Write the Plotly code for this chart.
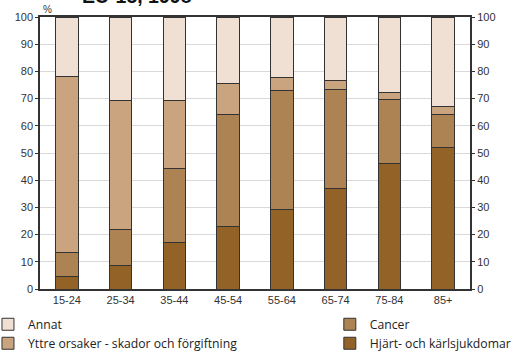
import plotly.graph_objects as go

categories = ["15-24", "25-34", "35-44", "45-54", "55-64", "65-74", "75-84", "85+"]
# cumulative tops (percent)
heart = [4.6, 8.8, 17.0, 22.9, 29.2, 36.9, 46.2, 52.1]
cancer_top = [13.5, 21.8, 44.2, 64.0, 72.9, 73.3, 69.6, 64.0]
yttre_top = [78.0, 69.2, 69.2, 75.4, 77.9, 76.6, 72.2, 67.1]

cancer = [c - h for c, h in zip(cancer_top, heart)]
yttre = [y - c for y, c in zip(yttre_top, cancer_top)]
annat = [100 - y for y in yttre_top]

series = [
    ("Hjärt- och kärlsjukdomar", heart, "#936226", 2, "legend2"),
    ("Cancer", cancer, "#AD8353", 1, "legend2"),
    ("Yttre orsaker - skador och förgiftning", yttre, "#C9A47E", 2, "legend"),
    ("Annat", annat, "#EFE0D3", 1, "legend"),
]

fig = go.Figure()
for name, vals, col, rank, leg in series:
    fig.add_trace(go.Bar(
        x=categories, y=vals, name=name, legendrank=rank, legend=leg,
        marker=dict(color=col, line=dict(color="#333333", width=1)),
        width=0.42,
    ))

# invisible trace for right axis
fig.add_trace(go.Scatter(x=categories, y=[0]*len(categories), yaxis="y2",
                         mode="markers", marker=dict(opacity=0), showlegend=False,
                         hoverinfo="skip"))

tickfont = dict(family="Liberation Sans Narrow, Arial Narrow, sans-serif", size=11, color="#333333")
legfont = dict(family="Open Sans, sans-serif", size=12.2, color="#222222")

fig.update_layout(
    width=532, height=352,
    margin=dict(l=40, r=62, t=17, b=63, autoexpand=False),
    barmode="stack",
    plot_bgcolor="white", paper_bgcolor="white",
    xaxis=dict(showgrid=False, tickfont=tickfont, showline=True, linecolor="#333333",
               linewidth=1.5, mirror=True, ticks="", ticklen=0, automargin=False),
    yaxis=dict(range=[0, 100], dtick=10, showgrid=True, gridcolor="#d9d9d9", gridwidth=1,
               tickfont=tickfont, showline=True, linecolor="#333333", linewidth=1.5,
               mirror=True, ticks="outside", ticklen=3, tickcolor="#333333", zeroline=False,
               automargin=False),
    yaxis2=dict(range=[0, 100], dtick=10, overlaying="y", side="right", showgrid=False,
                tickfont=tickfont, ticks="outside", ticklen=4, tickcolor="#333333",
                showline=False, zeroline=False, automargin=False),
    legend=dict(orientation="v", xref="paper", yref="container", x=-0.121, y=0.120,
                xanchor="left", yanchor="top", font=legfont, tracegroupgap=0,
                traceorder="normal", itemclick=False, bgcolor="rgba(0,0,0,0)"),
    legend2=dict(orientation="v", xref="paper", yref="container", x=0.674, y=0.120,
                 xanchor="left", yanchor="top", font=legfont, tracegroupgap=0,
                 traceorder="normal", itemclick=False, bgcolor="rgba(0,0,0,0)"),
    showlegend=True,
    annotations=[
        dict(text="<b>EU-15, 1998</b>", xref="paper", yref="paper", x=(137-40)/430, y=1.029,
             xanchor="center", yanchor="bottom", showarrow=False,
             font=dict(family="Liberation Sans, Arial, sans-serif", size=19.5, color="#111111")),
        dict(text="%", xref="paper", yref="paper", x=(47-40)/430, y=1.0,
             xanchor="center", yanchor="bottom", showarrow=False,
             font=dict(family="Liberation Sans Narrow, sans-serif", size=10, color="#333333")),
    ],
)

fig.write_html("out.html", config={"displayModeBar": False},
               post_script="document.body.style.margin='0';")
